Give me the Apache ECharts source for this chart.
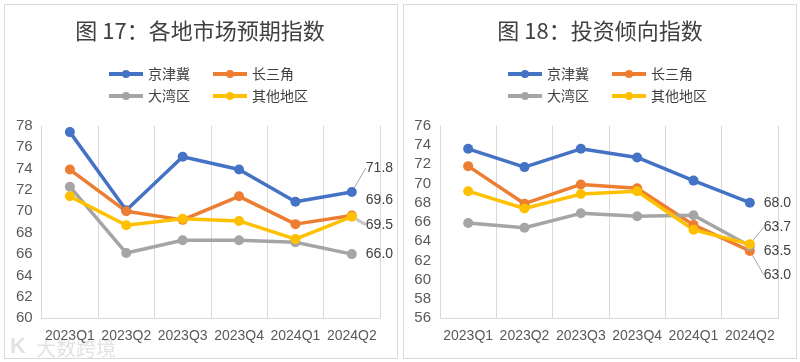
<!DOCTYPE html>
<html><head><meta charset="utf-8">
<script src="https://cdn.jsdelivr.net/npm/echarts@6/dist/echarts.min.js"></script>
<style>
html,body{margin:0;padding:0;background:#fff;width:800px;height:362px;overflow:hidden;}
.chart{position:absolute;top:0;width:400px;height:362px;}
.frame{position:absolute;top:4px;height:353px;border:1px solid #d9d9d9;pointer-events:none;}
</style></head>
<body>
<div id="c1" class="chart" style="left:0"></div>
<div id="c2" class="chart" style="left:400px"></div>
<div class="frame" style="left:4px;width:392px"></div>
<div class="frame" style="left:403px;width:392px"></div>
<script>
const categories = ['2023Q1','2023Q2','2023Q3','2023Q4','2024Q1','2024Q2'];
const seriesNames = ['京津冀','长三角','大湾区','其他地区'];
const colors = ['#4472C4','#ED7D31','#A5A5A5','#FFC000'];

const title1 = '图 17：各地市场预期指数';
const exp_jjj = [77.4, 70.1, 75.1, 73.9, 70.9, 71.8];
const exp_csj = [73.9, 70.0, 69.2, 71.4, 68.8, 69.6];
const exp_dwq = [72.3, 66.1, 67.3, 67.3, 67.1, 66.0];
const exp_qt  = [71.4, 68.7, 69.3, 69.1, 67.4, 69.5];
const yTicks1 = {min: 60, max: 78, interval: 2};

const title2 = '图 18：投资倾向指数';
const inv_jjj = [73.6, 71.7, 73.6, 72.7, 70.3, 68.0];
const inv_csj = [71.8, 67.9, 69.9, 69.5, 65.7, 63.0];
const inv_dwq = [65.9, 65.4, 66.9, 66.6, 66.7, 63.5];
const inv_qt  = [69.2, 67.4, 68.9, 69.2, 65.2, 63.7];
const yTicks2 = {min: 56, max: 76, interval: 2};

const numFont = 'Liberation Sans, Arial, sans-serif';
const cjkFont = 'Noto Sans CJK SC, sans-serif';

function buildSeries(valuesList, layouts) {
  return valuesList.map((vals, i) => ({
    name: seriesNames[i],
    type: 'line',
    data: vals.map((v, k) => k === vals.length - 1 ? {
      value: v,
      label: {show: true}
    } : v),
    symbol: 'circle',
    symbolSize: 10,
    lineStyle: {width: 3.5, color: colors[i]},
    itemStyle: {color: colors[i]},
    label: {
      show: false, position: 'right', distance: 6,
      fontFamily: numFont, fontSize: 14, color: '#404040',
      formatter: p => Number(p.value).toFixed(1)
    },
    labelLayout: p => p.dataIndex === vals.length - 1 ? {dx: layouts[i][0], dy: layouts[i][1]} : {},
    labelLine: {show: layouts[i][2], length2: 0, lineStyle: {color: layouts[i][3] || '#a6a6a6', width: layouts[i][4] || 1}},
    emphasis: {disabled: true},
    animation: false
  }));
}

function makeOption(title, yTicks, valuesList, layouts, gridLeft, gridRight, legendLeft, extraGraphic) {
  const legendCommon = {itemWidth: 34, itemHeight: 10, itemGap: 21,
    lineStyle: {width: 4}, textStyle: {fontFamily: cjkFont, fontSize: 14, color: '#404040'}};
  return {
    animation: false,
    color: colors,
    title: {
      text: title, left: 'center', top: 15,
      textStyle: {fontFamily: cjkFont, fontSize: 22, fontWeight: 'normal', color: '#404040'}
    },
    legend: [
      Object.assign({data: seriesNames.slice(0, 2), left: legendLeft, top: 62}, legendCommon),
      Object.assign({data: seriesNames.slice(2, 4), left: legendLeft, top: 84}, legendCommon)
    ],
    grid: {left: gridLeft, right: gridRight, top: 125.7, bottom: 43.7},
    xAxis: {
      type: 'category', data: categories, boundaryGap: true,
      axisLine: {lineStyle: {color: '#d9d9d9'}},
      axisTick: {show: false},
      splitLine: {show: true, lineStyle: {color: '#d9d9d9'}},
      axisLabel: {fontFamily: numFont, fontSize: 14, color: '#595959', margin: 11, interval: 0}
    },
    yAxis: {
      type: 'value', min: yTicks.min, max: yTicks.max, interval: yTicks.interval,
      axisLine: {show: false}, axisTick: {show: false},
      splitLine: {show: false},
      axisLabel: {fontFamily: numFont, fontSize: 15, color: '#595959', margin: 9}
    },
    graphic: extraGraphic || [],
    series: buildSeries(valuesList, layouts)
  };
}

const c1 = echarts.init(document.getElementById('c1'), null, {renderer: 'canvas'});
c1.setOption(makeOption(title1, yTicks1, [exp_jjj, exp_csj, exp_dwq, exp_qt],
  [[3, -24, true], [3, -15, false], [3, 0, false], [3, 8, true, '#c8c8c8', 3]],
  41.7, 20, 102,
  [{type: 'text', left: 36, top: 338, style: {text: '大数跨境', font: '20px Noto Sans CJK SC', fill: 'rgba(190,190,190,0.45)'}},
   {type: 'text', left: 10, top: 336, style: {text: 'K', font: 'bold 22px Liberation Sans', fill: 'rgba(190,190,190,0.45)'}}]
));

const c2 = echarts.init(document.getElementById('c2'), null, {renderer: 'canvas'});
c2.setOption(makeOption(title2, yTicks2, [inv_jjj, inv_csj, inv_dwq, inv_qt],
  [[3, 0, false], [3, 24, true], [3, 5, false], [3, -17, true]],
  40, 22, 101
));
</script>
</body></html>
